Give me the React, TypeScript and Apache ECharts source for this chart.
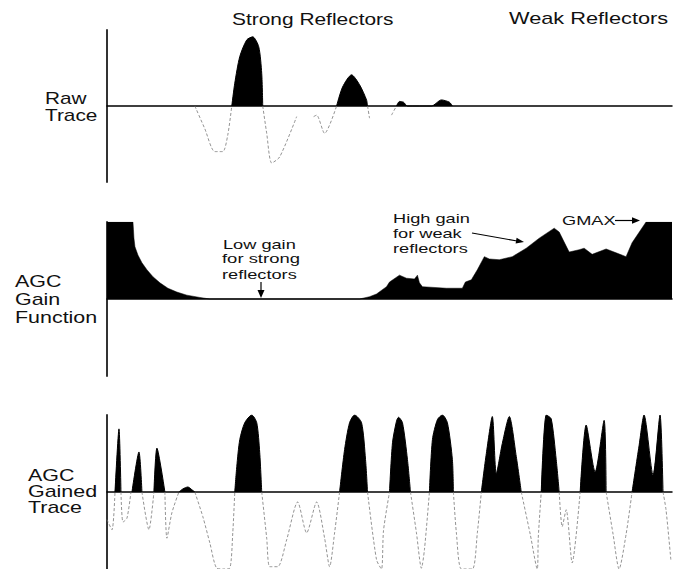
import React, { useEffect, useRef } from "react";
import * as echarts from "echarts";

// Sample positions (trace time, in samples) and amplitudes.
// Raw trace
const rawT = [0, 88, 98, 108, 116, 121, 125, 128, 133, 140, 146, 152, 155, 156, 160, 165, 173, 190, 198, 207, 210, 218, 230, 236, 245, 253, 260, 261, 263, 274, 285, 290, 293, 297, 301, 325, 335, 343, 346, 566];
const rawV: (number | null)[] = [0, 0, -0.3, -0.6, -0.6, -0.38, 0, 0.3, 0.65, 0.87, 0.91, 0.78, 0.43, 0, -0.36, -0.75, -0.67, -0.14, null, -0.14, -0.12, -0.36, 0, 0.25, 0.41, 0.28, 0.08, 0, -0.16, null, -0.12, 0, 0.06, 0.05, 0, 0, 0.08, 0.05, 0, 0];

// AGC gain function
const gainT = [0, 26, 26.5, 27, 28, 31, 35, 40, 46, 53, 61, 70, 80, 93, 103, 253, 263, 270, 280, 283, 293, 300, 308, 311, 313, 316, 340, 356, 359, 365, 371, 378, 383, 393, 406, 420, 433, 448, 453, 458, 463, 473, 478, 486, 500, 510, 520, 526, 540, 566];
const gainV = [1, 1, 0.9, 0.79, 0.68, 0.57, 0.47, 0.38, 0.29, 0.21, 0.14, 0.09, 0.05, 0.02, 0, 0, 0.03, 0.065, 0.16, 0.22, 0.31, 0.27, 0.26, 0.31, 0.21, 0.16, 0.14, 0.14, 0.22, 0.25, 0.38, 0.55, 0.52, 0.51, 0.55, 0.66, 0.79, 0.92, 0.87, 0.74, 0.61, 0.64, 0.66, 0.58, 0.65, 0.6, 0.55, 0.73, 1, 1];

// AGC gained trace
const gainedT = [0, 5, 8, 12, 14, 16, 20, 24, 25, 32, 35, 42, 47, 50, 58, 60, 65, 72, 76, 81, 85, 88, 96, 103, 110, 117, 123, 126, 128, 130, 133, 138, 145, 150, 153, 155, 160, 163, 171, 180, 191, 200, 210, 218, 223, 228, 233, 238, 243, 248, 255, 259, 261, 270, 275, 277, 283, 286, 290, 292, 296, 301, 304, 310, 315, 318, 323, 326, 331, 336, 341, 346, 347, 350, 355, 366, 371, 375, 380, 386, 390, 396, 403, 410, 415, 424, 431, 432, 435, 440, 445, 450, 453, 456, 460, 466, 474, 480, 489, 498, 500, 507, 513, 520, 526, 533, 538, 547, 554, 557, 560, 565];
const gainedV = [-0.36, -0.49, 0, 0.82, 0, -0.39, -0.34, 0, 0, 0.52, 0, -0.49, 0, 0.57, 0, -0.6, -0.27, 0, 0.04, 0.065, 0.03, 0, -0.32, -0.66, -0.99, -1, -0.99, -0.53, 0, 0.33, 0.68, 0.9, 1, 0.9, 0.51, 0, -0.6, -0.97, -0.97, -0.62, -0.13, -0.53, -0.13, -0.6, -0.97, -0.53, 0, 0.55, 0.9, 1, 0.9, 0.42, 0, -0.88, -1, -0.5, 0, 0.64, 0.92, 0.97, 0.9, 0.42, 0, -0.53, -0.99, -0.75, 0, 0.68, 0.94, 1, 0.9, 0.42, 0, -0.53, -1, -1, -0.53, 0, 0.5, 0.98, 0.24, 0.63, 0.98, 0.46, 0, -0.55, -1, -0.6, 0, 1, 0.95, 0.42, 0, -0.45, -0.23, -0.92, 0, 0.87, 0.26, 0.93, 0, -0.55, -1, -0.55, 0, 0.6, 1, 0.22, 1, 0, -0.23, -0.9];

const FONT = "'Liberation Sans', Arial, Helvetica, sans-serif";

function split(t: number[], v: (number | null)[]) {
  const pos: [number, number | null][] = [];
  const neg: [number, number | null][] = [];
  for (let i = 0; i < v.length; i++) {
    const val = v[i];
    if (val === null) {
      pos.push([t[i], null]);
      neg.push([t[i], null]);
      continue;
    }
    const prev = i > 0 ? v[i - 1] : null;
    const next = i < v.length - 1 ? v[i + 1] : null;
    const posOk = val > 0 || (val === 0 && ((prev !== null && prev > 0) || (next !== null && next > 0)));
    const negOk = val < 0 || (val === 0 && ((prev !== null && prev < 0) || (next !== null && next < 0)));
    pos.push([t[i], posOk ? val : null]);
    neg.push([t[i], negOk ? val : null]);
  }
  return { pos, neg };
}

function label(text: string, x: number, y: number, size: number, sx: number) {
  return {
    type: "text",
    x,
    y,
    scaleX: sx,
    silent: true,
    style: {
      text,
      fontSize: size,
      fontFamily: FONT,
      fill: "#111",
      textAlign: "left",
      textVerticalAlign: "middle",
      align: "left",
      verticalAlign: "middle",
    },
  };
}

export default function App() {
  const ref = useRef<HTMLDivElement>(null);
  useEffect(() => {
    document.body.style.margin = "0";
    if (!ref.current) return;
    const chart = echarts.init(ref.current, undefined, { renderer: "svg" });
    const raw = split(rawT, rawV);
    const gained = split(gainedT, gainedV);
    const gridTops = [30, 222, 415];
    const grids = gridTops.map((top) => ({ left: 107, top, width: 565, height: top === 30 ? 152 : 154 }));
    const xAxes = gridTops.map((_, i) => ({
      type: "value",
      gridIndex: i,
      min: 0,
      max: 566,
      axisLine: { show: true, onZero: true, lineStyle: { color: "#000", width: 1.5 } },
      axisTick: { show: false },
      axisLabel: { show: false },
      splitLine: { show: false },
    }));
    const yAxes = gridTops.map((_, i) => ({
      type: "value",
      gridIndex: i,
      min: -1,
      max: 1,
      axisLine: { show: true, lineStyle: { color: "#333", width: 2 } },
      axisTick: { show: false },
      axisLabel: { show: false },
      splitLine: { show: false },
    }));
    const posSeries = (data: any, idx: number) => ({
      type: "line",
      xAxisIndex: idx,
      yAxisIndex: idx,
      data,
      symbol: "none",
      smooth: 0.25,
      connectNulls: false,
      lineStyle: { color: "#000", width: 1 },
      areaStyle: { color: "#000", opacity: 1 },
      z: 3,
    });
    const negSeries = (data: any, idx: number) => ({
      type: "line",
      xAxisIndex: idx,
      yAxisIndex: idx,
      data,
      symbol: "none",
      smooth: 0.25,
      connectNulls: false,
      lineStyle: { color: "#777", width: 0.8, type: [3, 2] },
      z: 2,
    });
    chart.setOption({
      animation: false,
      grid: grids,
      xAxis: xAxes,
      yAxis: yAxes,
      series: [
        posSeries(raw.pos, 0),
        negSeries(raw.neg, 0),
        {
          type: "line",
          xAxisIndex: 1,
          yAxisIndex: 1,
          data: gainT.map((t, i) => [t, gainV[i]]),
          symbol: "none",
          lineStyle: { color: "#000", width: 0.5 },
          areaStyle: { color: "#000", opacity: 1 },
          z: 3,
        },
        posSeries(gained.pos, 2),
        negSeries(gained.neg, 2),
      ],
      graphic: [
        label("Strong Reflectors", 232, 19, 17, 1.23),
        label("Weak Reflectors", 509, 18, 17, 1.28),
        label("Raw", 45, 98, 16, 1.3),
        label("Trace", 45, 115, 16, 1.3),
        label("AGC", 15, 282, 16, 1.34),
        label("Gain", 15, 300, 16, 1.34),
        label("Function", 15, 318, 16, 1.34),
        label("AGC", 28, 476, 16, 1.34),
        label("Gained", 28, 492, 16, 1.34),
        label("Trace", 28, 508, 16, 1.34),
        label("Low gain", 223, 244, 13, 1.4),
        label("for strong", 222, 259, 13, 1.42),
        label("reflectors", 222, 274, 13, 1.4),
        label("High gain", 393, 218, 13, 1.4),
        label("for weak", 393, 233, 13, 1.4),
        label("reflectors", 393, 248, 13, 1.4),
        label("GMAX", 562, 220, 13, 1.4),
        { type: "line", silent: true, shape: { x1: 261, y1: 282, x2: 261, y2: 291 }, style: { stroke: "#000", lineWidth: 1.2 } },
        { type: "polygon", silent: true, shape: { points: [[257.5, 290], [264.5, 290], [261, 298]] }, style: { fill: "#000" } },
        { type: "line", silent: true, shape: { x1: 472, y1: 233, x2: 517, y2: 241 }, style: { stroke: "#000", lineWidth: 1.2 } },
        { type: "polygon", silent: true, shape: { points: [[524, 242], [516.6, 237.7], [515.6, 243.6]] }, style: { fill: "#000" } },
        { type: "line", silent: true, shape: { x1: 615, y1: 220.5, x2: 633, y2: 220.5 }, style: { stroke: "#000", lineWidth: 1.2 } },
        { type: "polygon", silent: true, shape: { points: [[640, 220.5], [632, 217.3], [632, 223.7]] }, style: { fill: "#000" } },
      ],
    });
    return () => chart.dispose();
  }, []);
  return <div ref={ref} style={{ position: "absolute", left: 0, top: 0, width: 673, height: 569 }} />;
}
